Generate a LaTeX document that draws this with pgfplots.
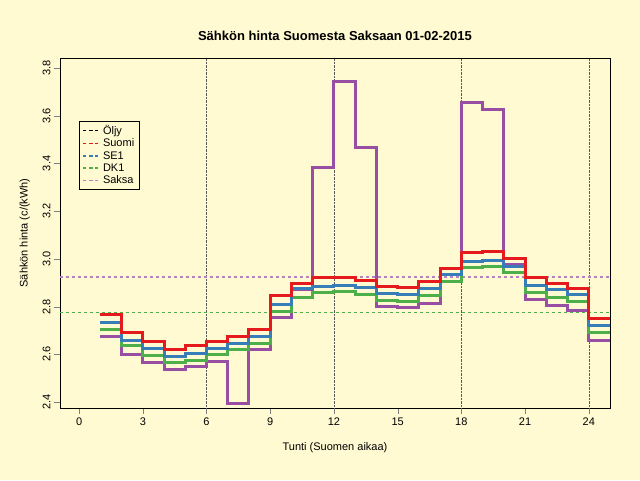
\documentclass[border=0pt]{standalone}
\usepackage{pgfplots}
\pgfplotsset{compat=1.18}
\usepackage{fontspec}
\setmainfont{Liberation Sans}
\definecolor{bg}{RGB}{255,250,210}
\definecolor{cR}{HTML}{E41A1C}
\definecolor{cB}{HTML}{377EB8}
\definecolor{cG}{HTML}{4DAF4A}
\definecolor{cP}{HTML}{984EA3}
\begin{document}
\begin{tikzpicture}[x=1pt,y=1pt]
\fill[bg] (-60,-72) rectangle (580,408);
\path[use as bounding box] (-60,-72) rectangle (580,408);
\begin{axis}[at={(0,0)},anchor=south west,scale only axis,width=550pt,height=350pt,
 xmin=-0.9,xmax=25.0,ymin=2.375,ymax=3.842,
 axis background/.style={fill=bg},
 xtick={0,3,...,24},ytick={2.4,2.6,...,3.8},
 yticklabel style={rotate=90,/pgf/number format/fixed,/pgf/number format/precision=1,/pgf/number format/fixed zerofill},
 /pgf/number format/assume math mode=true,
 tick align=outside,tick pos=left,major tick length=6pt,
 tick label style={font=\fontsize{11}{13}\selectfont},
 xlabel={Tunti (Suomen aikaa)},ylabel={Sähkön hinta (c/(kWh)},
 label style={font=\fontsize{11}{13}\selectfont},
 xlabel style={yshift=-10pt},ylabel style={yshift=6pt},
 title={\fontsize{13}{15}\selectfont\bfseries Sähkön hinta Suomesta Saksaan 01-02-2015},title style={yshift=8pt},
 legend style={at={(0.035,0.82)},anchor=north west,fill=bg,draw=black,font=\fontsize{11}{13}\selectfont,row sep=-1pt},
 legend cell align=left,
 ]
\addlegendimage{black,dashed,line width=1.5pt}\addlegendentry{Öljy}
\addlegendimage{cR,dashed,line width=1.5pt}\addlegendentry{Suomi}
\addlegendimage{cB,dashed,line width=1.5pt}\addlegendentry{SE1}
\addlegendimage{cG,dashed,line width=1.5pt}\addlegendentry{DK1}
\addlegendimage{cP!70,dashed,line width=1.5pt}\addlegendentry{Saksa}
\foreach \v in {6,12,18,24}{\edef\t{\noexpand\draw[densely dotted,gray!70!black] (axis cs:\v,2.375)--(axis cs:\v,3.842);}\t}
\addplot[forget plot,black,dashed,line width=1.5pt] coordinates {(-0.9,2.775)(25,2.775)};
\addplot[forget plot,cG,dashed,line width=1.5pt] coordinates {(-0.9,2.775)(25,2.775)};
\addplot[forget plot,cP!70,dashed,line width=1.5pt] coordinates {(-0.9,2.925)(25,2.925)};
\addplot[forget plot,const plot,cP,line width=3pt] coordinates {(1,2.675)(2,2.6)(3,2.565)(4,2.535)(5,2.55)(6,2.57)(7,2.395)(8,2.62)(9,2.755)(10,2.87)(11,3.385)(12,3.745)(13,3.465)(14,2.8)(15,2.795)(16,2.815)(17,2.96)(18,3.655)(19,3.625)(20,2.975)(21,2.83)(22,2.805)(23,2.785)(24,2.66)(25,2.66)};
\addplot[forget plot,const plot,cG,line width=3pt] coordinates {(1,2.705)(2,2.635)(3,2.595)(4,2.565)(5,2.575)(6,2.6)(7,2.62)(8,2.645)(9,2.78)(10,2.84)(11,2.86)(12,2.865)(13,2.85)(14,2.825)(15,2.82)(16,2.845)(17,2.905)(18,2.965)(19,2.97)(20,2.945)(21,2.86)(22,2.84)(23,2.82)(24,2.69)(25,2.69)};
\addplot[forget plot,const plot,cB,line width=3pt] coordinates {(1,2.735)(2,2.66)(3,2.625)(4,2.59)(5,2.605)(6,2.625)(7,2.645)(8,2.675)(9,2.81)(10,2.875)(11,2.885)(12,2.89)(13,2.88)(14,2.855)(15,2.85)(16,2.875)(17,2.935)(18,2.99)(19,2.995)(20,2.97)(21,2.89)(22,2.87)(23,2.85)(24,2.72)(25,2.72)};
\addplot[forget plot,const plot,cR,line width=3pt] coordinates {(1,2.765)(2,2.69)(3,2.655)(4,2.62)(5,2.635)(6,2.655)(7,2.675)(8,2.705)(9,2.845)(10,2.895)(11,2.92)(12,2.92)(13,2.91)(14,2.885)(15,2.88)(16,2.905)(17,2.96)(18,3.025)(19,3.03)(20,3.0)(21,2.92)(22,2.895)(23,2.875)(24,2.75)(25,2.75)};
\end{axis}
\end{tikzpicture}
\end{document}
